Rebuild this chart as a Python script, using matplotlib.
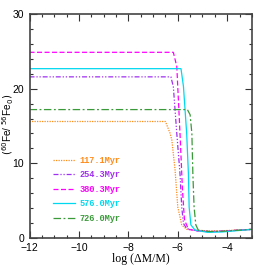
import numpy as np
import matplotlib.pyplot as plt
from matplotlib.ticker import MultipleLocator

# Data
labels = ["117.1Myr", "254.3Myr", "380.3Myr", "576.0Myr", "726.0Myr"]
colors = ["#FF8C1A", "#A030F0", "#FF00FF", "#00D8F0", "#3A9A3A"]

x117 = [-12, -6.50, -6.31, -6.24, -6.11, -6.00, -5.84, -5.64, -5.3, -4.8, -4.3, -3.0]
y117 = [15.6, 15.6, 14.0, 13.1, 9.1, 4.1, 1.7, 1.1, 1.0, 0.9, 0.9, 1.1]

x254 = [-12, -6.28, -6.18, -6.04, -5.91, -5.84, -5.77, -5.64, -5.2, -4.7, -4.2, -3.0]
y254 = [21.6, 21.6, 20.3, 14.0, 8.6, 4.1, 1.9, 1.2, 0.9, 0.8, 0.85, 1.1]

x380 = [-12, -6.18, -6.04, -5.91, -5.81, -5.73, -5.57, -5.2, -4.7, -4.2, -3.0]
y380 = [24.9, 24.9, 23.0, 14.0, 6.4, 2.4, 1.1, 0.9, 0.8, 0.85, 1.1]

x576 = [-12, -5.87, -5.77, -5.64, -5.57, -5.54, -5.47, -5.30, -4.8, -4.2, -3.0]
y576 = [22.7, 22.7, 20.3, 14.0, 8.6, 4.1, 1.7, 1.0, 0.7, 0.75, 1.1]

x726 = [-12, -5.61, -5.50, -5.43, -5.39, -5.34, -5.27, -5.17, -4.7, -4.2, -3.0]
y726 = [17.2, 17.2, 16.5, 14.0, 8.6, 4.1, 1.7, 1.0, 0.8, 0.85, 1.1]

xs = [x117, x254, x380, x576, x726]
ys = [y117, y254, y380, y576, y726]
styles = [(0, (1, 1)), (0, (4, 1.5, 1, 1.5, 1, 1.5)), (0, (4, 2)), "-", (0, (6, 2, 1.5, 2))]

fig = plt.figure(figsize=(2.66, 2.66), dpi=100)
ax = fig.add_axes([0.111, 0.107, 0.836, 0.839])

for x, y, c, ls, lab in zip(xs, ys, colors, styles, labels):
    ax.plot(x, y, color=c, ls=ls, lw=0.9, label=lab)

ax.set_xlim(-12, -3)
ax.set_ylim(0, 30)
ax.xaxis.set_major_locator(MultipleLocator(2))
ax.xaxis.set_minor_locator(MultipleLocator(0.5))
ax.yaxis.set_major_locator(MultipleLocator(10))
ax.yaxis.set_minor_locator(MultipleLocator(2))
ax.tick_params(which="both", direction="in", top=True, right=True, width=0.8, colors="#333333", labelcolor="black", labelsize=7.5)
ax.tick_params(axis="x", pad=4)
ax.tick_params(axis="y", pad=4)
ax.tick_params(which="major", length=5)
ax.tick_params(which="minor", length=2.5)
for s in ax.spines.values():
    s.set_linewidth(1.2)
    s.set_color("#444444")
for t in ax.get_xticklabels() + ax.get_yticklabels():
    t.set_fontfamily("Liberation Sans")

ax.set_xlabel("log (\u0394M/M)", fontsize=8.5, family="Liberation Serif", labelpad=0)
fig.text(0.032, 0.534, "$(^{60}$Fe/ $^{56}$Fe$_0)$", fontsize=7.2, family="Liberation Sans",
         rotation=90, ha="center", va="center")

leg = ax.legend(loc="lower left", bbox_to_anchor=(0.07, 0.03), frameon=False, labelcolor="linecolor",
                prop={"family": "Liberation Mono", "weight": "bold", "size": 6.2},
                handlelength=2.6, handletextpad=0.5, labelspacing=0.65)

fig.savefig("out.png", dpi=100)
